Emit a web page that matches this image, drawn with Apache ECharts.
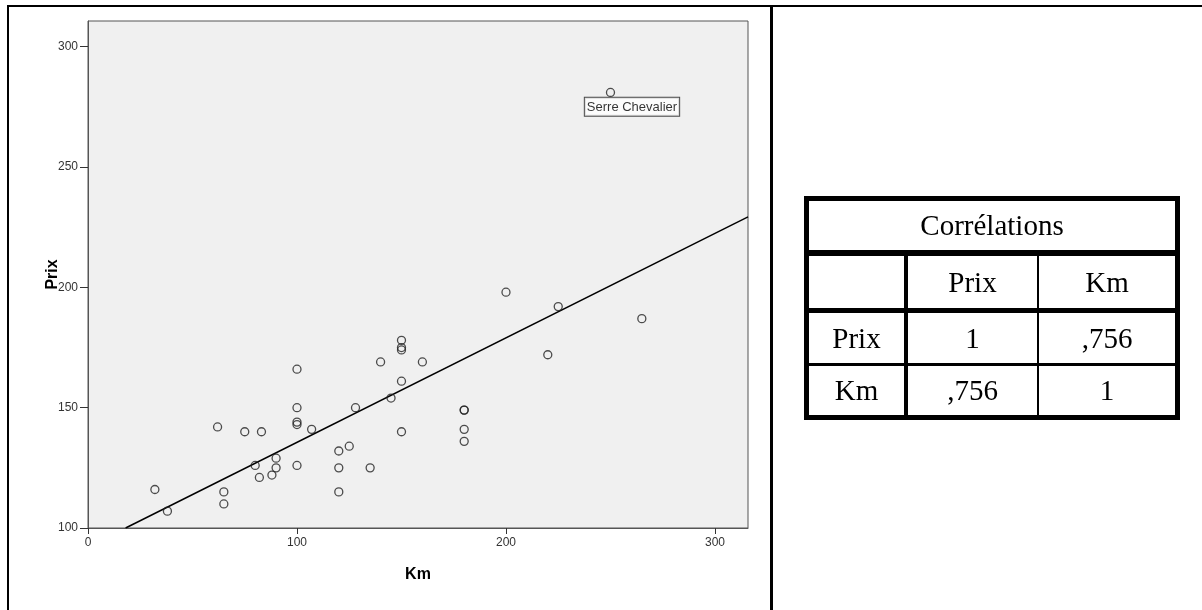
<!DOCTYPE html>
<html>
<head>
<meta charset="utf-8">
<script src="https://cdn.jsdelivr.net/npm/echarts@6/dist/echarts.min.js"></script>
<style>
  html, body { margin: 0; padding: 0; background: #fff; }
  #wrap { position: relative; width: 1202px; height: 610px; overflow: hidden; }
  #chart { position: absolute; left: 0; top: 0; width: 1202px; height: 610px; }
  .ln { position: absolute; background: #000; }
  .tx { position: absolute; font-family: "Liberation Serif", "Times New Roman", serif; font-size: 29px; color: #000;
        display: flex; align-items: center; justify-content: center; white-space: nowrap; }
</style>
</head>
<body>
<div id="wrap">
  <div id="chart"></div>
  <!-- outer frame -->
  <div class="ln" style="left:7px;top:5px;width:1195px;height:2px;"></div>
  <div class="ln" style="left:7px;top:5px;width:2px;height:605px;"></div>
  <div class="ln" style="left:770px;top:5px;width:3px;height:605px;"></div>
  <!-- table lines -->
  <div class="ln" style="left:804px;top:196px;width:376px;height:5px;"></div>
  <div class="ln" style="left:804px;top:196px;width:5px;height:224px;"></div>
  <div class="ln" style="left:1175px;top:196px;width:5px;height:224px;"></div>
  <div class="ln" style="left:804px;top:415px;width:376px;height:5px;"></div>
  <div class="ln" style="left:804px;top:250px;width:376px;height:6px;"></div>
  <div class="ln" style="left:804px;top:308px;width:376px;height:5px;"></div>
  <div class="ln" style="left:804px;top:363px;width:376px;height:3px;"></div>
  <div class="ln" style="left:904px;top:253px;width:4px;height:167px;"></div>
  <div class="ln" style="left:1037px;top:253px;width:2px;height:167px;"></div>
  <!-- table texts -->
  <div class="tx" style="left:809px;top:201px;width:366px;height:49px;">Corrélations</div>
  <div class="tx" style="left:908px;top:256px;width:129px;height:52px;">Prix</div>
  <div class="tx" style="left:1039px;top:256px;width:136px;height:52px;">Km</div>
  <div class="tx" style="left:809px;top:313px;width:95px;height:50px;">Prix</div>
  <div class="tx" style="left:908px;top:313px;width:129px;height:50px;">1</div>
  <div class="tx" style="left:1039px;top:313px;width:136px;height:50px;">,756</div>
  <div class="tx" style="left:809px;top:366px;width:95px;height:49px;">Km</div>
  <div class="tx" style="left:908px;top:366px;width:129px;height:49px;">,756</div>
  <div class="tx" style="left:1039px;top:366px;width:136px;height:49px;">1</div>
</div>
<script>
// ---- data ----
const kmValues   = [32, 38, 62, 65, 65, 75, 83, 80, 82, 88, 90, 90, 100, 100, 100, 100, 100, 107, 120, 120, 120, 125, 128, 135, 140, 145, 150, 150, 150, 150, 150, 160, 180, 180, 180, 180, 200, 220, 225, 265, 250];
const prixValues = [116, 107, 142, 115, 110, 140, 140, 126, 121, 122, 129, 125, 166, 150, 144, 143, 126, 141, 132, 125, 115, 134, 150, 125, 169, 154, 178, 175, 174, 161, 140, 169, 149, 149, 141, 136, 198, 172, 192, 187, 281];
const pointNames = ['', '', '', '', '', '', '', '', '', '', '', '', '', '', '', '', '', '', '', '', '', '', '', '', '', '', '', '', '', '', '', '', '', '', '', '', '', '', '', '', 'Serre Chevalier'];
const fitLine    = [[18, 100], [315.8, 229.3]];
const xTicks     = [0, 100, 200, 300];
const yTicks     = [100, 150, 200, 250, 300];

const scatterData = kmValues.map((k, i) => {
  const item = { value: [k, prixValues[i]], name: pointNames[i] };
  if (pointNames[i]) {
    item.label = {
      show: true, formatter: '{b}', position: [-21, 10],
      align: 'left', verticalAlign: 'top',
      fontFamily: 'Liberation Sans, Arial, sans-serif', fontSize: 13, color: '#000',
      backgroundColor: '#fff', borderColor: '#222', borderWidth: 1, padding: [3, 2, 2, 2]
    };
  }
  return item;
});

const chart = echarts.init(document.getElementById('chart'), null, { renderer: 'canvas' });
const sans = 'Liberation Sans, Arial, sans-serif';
chart.setOption({
  animation: false,
  backgroundColor: 'transparent',
  grid: { left: 88, top: 21, width: 660, height: 507, show: true, backgroundColor: '#f0f0f0', borderColor: '#555', borderWidth: 1 },
  xAxis: {
    type: 'value', min: 0, max: 315.8,
    name: 'Km', nameLocation: 'middle', nameGap: 39, nameMoveOverlap: false,
    nameTextStyle: { fontFamily: sans, fontSize: 16, fontWeight: 'bold', color: '#000' },
    axisLine: { show: true, lineStyle: { color: '#555', width: 1 } },
    axisTick: { show: true, length: 6, lineStyle: { color: '#333' }, customValues: xTicks },
    axisLabel: { customValues: xTicks, margin: 9, fontFamily: sans, fontSize: 12, color: '#333' },
    splitLine: { show: false }
  },
  yAxis: {
    type: 'value', min: 100, max: 310.7,
    name: 'Prix', nameLocation: 'middle', nameGap: 27, nameRotate: 90, nameMoveOverlap: false,
    nameTextStyle: { fontFamily: sans, fontSize: 16, fontWeight: 'bold', color: '#000' },
    axisLine: { show: true, lineStyle: { color: '#555', width: 1 } },
    axisTick: { show: true, length: 8, lineStyle: { color: '#333' }, customValues: yTicks },
    axisLabel: { customValues: yTicks, margin: 10, fontFamily: sans, fontSize: 12, color: '#333' },
    splitLine: { show: false }
  },
  series: [
    {
      type: 'line', data: fitLine, symbol: 'none', silent: true,
      lineStyle: { color: '#000', width: 1.5 }, z: 2
    },
    {
      type: 'scatter', data: scatterData, symbol: 'circle', symbolSize: 8,
      itemStyle: { color: 'rgba(0,0,0,0)', borderColor: '#222', borderWidth: 1.3 }, z: 3
    }
  ]
});
</script>
</body>
</html>
